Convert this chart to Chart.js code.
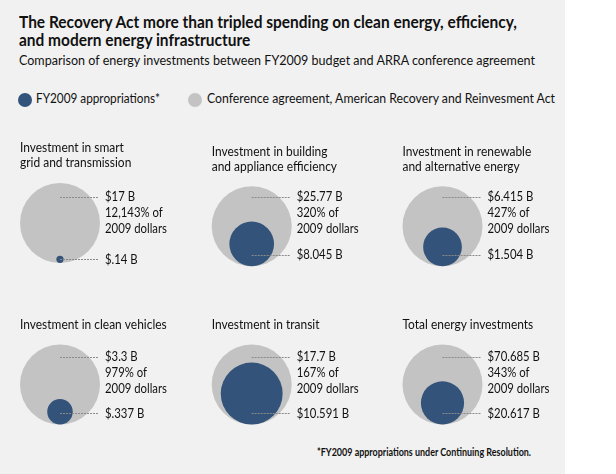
<!DOCTYPE html>
<html><head><meta charset="utf-8">
<script src="https://cdn.jsdelivr.net/npm/chart.js@4/dist/chart.umd.min.js"></script>
<style>
html,body{margin:0;padding:0;background:#fff;}
body{width:616px;height:474px;position:relative;overflow:hidden;font-family:Lato,"Open Sans",sans-serif;color:#111;}
#bg{position:absolute;left:0;top:0;width:565px;height:474px;background:#f1f1f1;}
canvas#c{position:absolute;left:0;top:0;}
.t{position:absolute;white-space:nowrap;transform-origin:0 0;display:block;}
.title{font-size:17px;line-height:18px;font-weight:bold;}
.sub{font-size:12.5px;line-height:16px;}
.dot{position:absolute;width:14px;height:14px;border-radius:50%;top:93px;}
.foot{font-size:11px;line-height:14px;font-weight:bold;}
</style></head>
<body>
<div id="bg"></div>
<span class="t title" style="left:19px;top:13px" data-w="498">The Recovery Act more than tripled spending on clean energy, efficiency,</span>
<span class="t title" style="left:19px;top:31px" data-w="498" data-same="1">and modern energy infrastructure</span>
<span class="t sub" style="left:18.5px;top:53px" data-w="516">Comparison of energy investments between FY2009 budget and ARRA conference agreement</span>
<div class="dot" style="left:18px;background:#33537a"></div>
<span class="t sub" style="left:36px;top:90.5px" data-w="124">FY2009 appropriations*</span>
<div class="dot" style="left:188px;background:#c3c3c3"></div>
<span class="t sub" style="left:207px;top:90.5px" data-w="348">Conference agreement, American Recovery and Reinvesment Act</span>
<span class="t foot" style="left:317px;top:444.7px" data-w="214">*FY2009 appropriations under Continuing Resolution.</span>
<canvas id="c" width="616" height="474"></canvas>
<script>
// ---- data ----
const categories = [
  ["Investment in smart", "grid and transmission"],
  ["Investment in building", "and appliance efficiency"],
  ["Investment in renewable", "and alternative energy"],
  ["Investment in clean vehicles"],
  ["Investment in transit"],
  ["Total energy investments"]
];
const conferenceAgreement = [17, 25.77, 6.415, 3.3, 17.7, 70.685];   // $B
const fy2009Appropriations = [0.14, 8.045, 1.504, 0.337, 10.591, 20.617]; // $B
const percentOf2009 = [12143, 320, 427, 979, 167, 343];

// ---- fit HTML text widths ----
let lastScale = 1;
document.querySelectorAll('.t').forEach(el => {
  const w = el.getBoundingClientRect().width;
  const s = el.dataset.same ? lastScale : (+el.dataset.w / w);
  lastScale = s;
  el.style.transform = 'scaleX(' + s + ')';
});

// ---- layout (pixels) ----
const R = 40;
const colX = [60, 251.7, 442.5];
const panelCY = [223, 226.3, 226.3, 384.5, 384.5, 384.5];
const rowLabelY = [196.7, 196.7, 196.7, 356.7, 356.7, 356.7];
const BLUE = '#33537a', GRAY = '#c3c3c3';
const FONT = 'Lato, "Open Sans", sans-serif';

const fmt = v => '$' + String(v).replace(/^0\./, '.') + ' B';

const grayData = conferenceAgreement.map((v, i) => ({x: colX[i % 3], y: panelCY[i], r: R}));
const blueData = fy2009Appropriations.map((v, i) => {
  const r = R * Math.sqrt(v / conferenceAgreement[i]);
  return {x: colX[i % 3], y: panelCY[i] + R - r, r: r};
});

function drawScaled(ctx, text, x, y, sx) {
  ctx.save(); ctx.translate(x, y); ctx.scale(sx, 1); ctx.fillText(text, 0, 0); ctx.restore();
}

const labelPlugin = {
  id: 'panelLabels',
  afterDatasetsDraw(chart) {
    const ctx = chart.ctx;
    const g = chart.getDatasetMeta(1).data, b = chart.getDatasetMeta(0).data;
    ctx.save();
    ctx.textBaseline = 'alphabetic';
    ctx.textAlign = 'left';
    ctx.fillStyle = '#111';
    const titleFont = '12.5px ' + FONT, valFont = '13px ' + FONT;
    ctx.font = titleFont;
    const sTitle = 146.7 / ctx.measureText('Investment in clean vehicles').width;
    ctx.font = valFont;
    const sVal = 62 / ctx.measureText('2009 dollars').width;
    for (let i = 0; i < categories.length; i++) {
      const cx = g[i].x, cy = g[i].y;
      const top = cy - R, bottom = cy + R;
      ctx.font = titleFont;
      const lines = categories[i];
      lines.forEach((ln, k) => {
        drawScaled(ctx, ln, cx - R, top - 15.6 - (lines.length - 1 - k) * 15, sTitle);
      });
      const yTop = rowLabelY[i];
      const yLow = Math.max(bottom - 11.5, b[i].y);
      ctx.strokeStyle = '#8a8a8a';
      ctx.lineWidth = 1;
      ctx.setLineDash([2, 1]);
      ctx.beginPath();
      ctx.moveTo(cx, Math.round(yTop) + 0.5); ctx.lineTo(cx + 39, Math.round(yTop) + 0.5);
      ctx.moveTo(cx, Math.round(yLow) + 0.5); ctx.lineTo(cx + 39, Math.round(yLow) + 0.5);
      ctx.stroke();
      ctx.setLineDash([]);
      ctx.font = valFont;
      const tx = cx + 45, off = 4.6;
      drawScaled(ctx, fmt(conferenceAgreement[i]), tx, yTop + off, sVal);
      drawScaled(ctx, percentOf2009[i].toLocaleString('en-US') + '% of', tx, yTop + 16 + off, sVal);
      drawScaled(ctx, '2009 dollars', tx, yTop + 32 + off, sVal);
      drawScaled(ctx, fmt(fy2009Appropriations[i]), tx, yLow + off, sVal);
    }
    ctx.restore();
  }
};

// bubble charts pad the chart area by the largest radius; map data units 1:1 to pixels
const PAD = R;
new Chart(document.getElementById('c'), {
  type: 'bubble',
  data: {
    datasets: [
      {label: 'FY2009 appropriations*', data: blueData, clip: false,
       backgroundColor: BLUE, borderWidth: 0, hoverRadius: 0},
      {label: 'Conference agreement, American Recovery and Reinvesment Act', data: grayData, clip: false,
       backgroundColor: GRAY, borderWidth: 0, hoverRadius: 0}
    ]
  },
  options: {
    responsive: false, animation: false, events: [],
    layout: {padding: 0},
    plugins: {legend: {display: false}, tooltip: {enabled: false}, title: {display: false}},
    scales: {
      x: {type: 'linear', min: PAD, max: 616 - PAD, display: false},
      y: {type: 'linear', min: PAD, max: 474 - PAD, reverse: true, display: false}
    }
  },
  plugins: [labelPlugin]
});
</script>
</body></html>
